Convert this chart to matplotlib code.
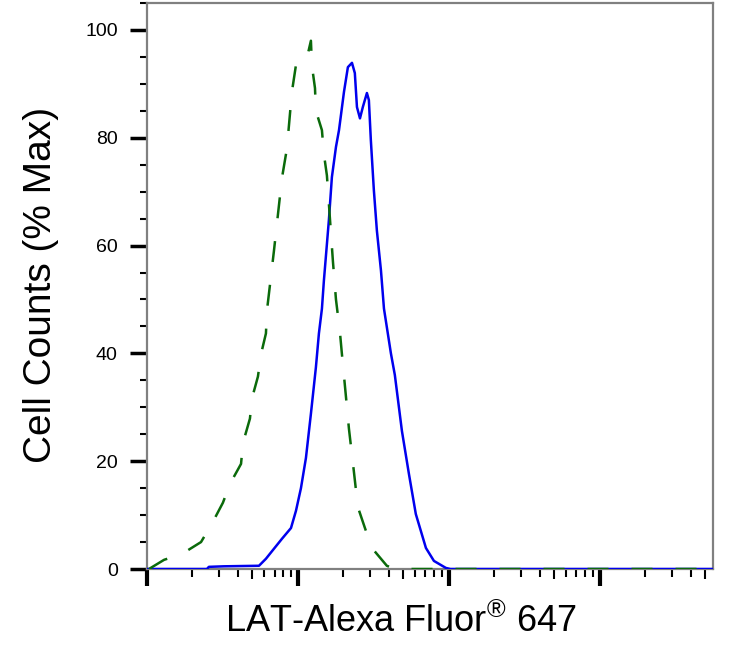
import matplotlib
matplotlib.use("Agg")
import matplotlib.pyplot as plt
from matplotlib.ticker import FixedLocator, NullFormatter

plt.rcParams['font.family'] = ['Liberation Sans', 'DejaVu Sans']

# fluorescence positions given as log10 of the channel value
control_log = [0.013, 0.113, 0.232, 0.358, 0.430, 0.503, 0.550, 0.623, 0.636, 0.682,
               0.695, 0.735, 0.755, 0.788, 0.795, 0.841, 0.894, 0.927, 0.960, 0.987,
               1.020, 1.053, 1.086, 1.093, 1.113, 1.119, 1.159, 1.172, 1.192, 1.212,
               1.232, 1.252, 1.278, 1.291, 1.318, 1.338, 1.371, 1.397, 1.444, 1.490,
               1.589, 1.640, 3.750]
control_pct = [0.0, 1.7, 2.8, 5.0, 8.4, 12.3, 15.8, 19.5, 23.4, 27.9,
               31.6, 35.7, 39.8, 43.7, 48.0, 59.0, 72.5, 78.0, 88.5, 93.5,
               93.8, 94.0, 98.0, 93.3, 89.2, 85.0, 81.4, 77.0, 73.0, 65.0,
               57.0, 50.0, 44.0, 40.0, 32.0, 26.0, 18.0, 11.5, 7.6, 3.9,
               0.6, 0.0, 0.0]

lat_log = [0.000, 0.397, 0.410, 0.510, 0.742, 0.788, 0.828, 0.894, 0.954, 0.987,
           1.020, 1.053, 1.086, 1.119, 1.139, 1.159, 1.172, 1.205, 1.225, 1.252,
           1.272, 1.305, 1.331, 1.358, 1.377, 1.391, 1.411, 1.430, 1.457, 1.470,
           1.483, 1.503, 1.523, 1.550, 1.570, 1.616, 1.642, 1.689, 1.735, 1.781,
           1.848, 1.901, 1.980, 2.010, 3.750]
lat_pct = [0.0, 0.0, 0.4, 0.5, 0.6, 1.9, 3.3, 5.6, 7.6, 10.8,
           15.0, 20.6, 28.8, 37.4, 43.7, 48.3, 53.5, 64.7, 72.7, 78.3,
           81.4, 88.5, 93.1, 93.9, 92.0, 85.7, 83.6, 85.7, 88.3, 87.0,
           79.6, 70.3, 62.8, 55.4, 48.3, 40.0, 36.0, 25.6, 17.7, 10.2,
           3.9, 1.5, 0.2, 0.0, 0.0]

y_major = [0, 20, 40, 60, 80, 100]


def main():
    fig = plt.figure(figsize=(7.31, 6.5), dpi=100)
    ax = fig.add_axes([147 / 731, 81 / 650, 566 / 731, 566 / 650])

    ax.plot([10 ** v for v in lat_log], lat_pct, color='#0000ee', lw=1.8, zorder=3)
    ax.plot([10 ** v for v in control_log], control_pct, color='#0a6a0a', lw=1.8,
            dashes=(8.4, 9.2), zorder=4)

    ax.set_xscale('log')
    ax.set_xlim(1, 10 ** 3.75)
    ax.set_ylim(0, 105)

    for s in ax.spines.values():
        s.set_color('#808080')
        s.set_linewidth(1.6)

    # x ticks: decades, 5x ticks medium, rest short
    ax.xaxis.set_major_locator(FixedLocator([1, 10, 100, 1000]))
    minors = [m * 10 ** d for d in range(4) for m in (2, 3, 4, 6, 7, 8, 9)]
    ax.xaxis.set_minor_locator(FixedLocator([v for v in minors if v < 10 ** 3.75]))
    ax.xaxis.set_major_formatter(NullFormatter())
    ax.xaxis.set_minor_formatter(NullFormatter())
    ax.tick_params(axis='x', which='major', length=12, width=3, color='black', direction='out')
    ax.tick_params(axis='x', which='minor', length=5.5, width=1.5, color='black', direction='out')
    sec = ax.secondary_xaxis('bottom')
    sec.spines['bottom'].set_visible(False)
    sec.set_xticks([5, 50, 500, 5000])
    sec.xaxis.set_major_formatter(NullFormatter())
    sec.tick_params(axis='x', which='major', length=7.5, width=1.5, color='black')
    sec.xaxis.set_minor_locator(FixedLocator([]))

    ax.yaxis.set_major_locator(FixedLocator(y_major))
    ax.yaxis.set_minor_locator(FixedLocator([v for v in range(5, 106, 5) if v % 20]))
    ax.tick_params(axis='y', which='major', length=12, width=2.5, color='black',
                   direction='out', labelsize=14, pad=9)
    ax.tick_params(axis='y', which='minor', length=5, width=1.5, color='black', direction='out')
    ax.set_yticklabels([str(v) for v in y_major])

    fig.text(41 / 731, 1 - 285 / 650, "Cell Counts (% Max)", rotation=90,
             ha='center', va='center', fontsize=28)
    fig.text(401 / 731, 1 - 632 / 650, r"LAT-Alexa Fluor$\mathregular{^{®}}$ 647",
             ha='center', va='baseline', fontsize=26)

    fig.savefig("out.png", dpi=100)


if __name__ == "__main__":
    main()
